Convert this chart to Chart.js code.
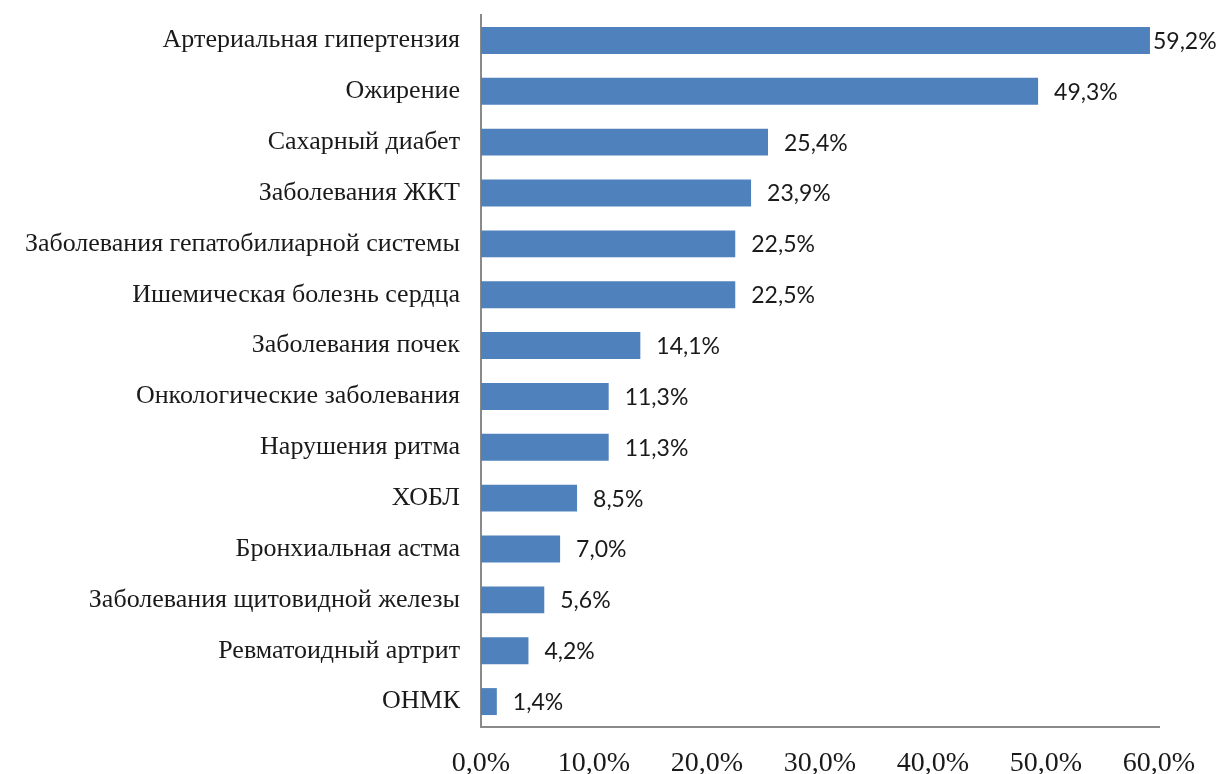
<!DOCTYPE html>
<html lang="ru">
<head>
    <meta charset="utf-8">
    <title>Сопутствующие заболевания</title>
    <script src="https://cdn.jsdelivr.net/npm/chart.js@4.4.0/dist/chart.umd.min.js"></script>
    <style>
        html, body { margin: 0; padding: 0; background: #fff; }
        #wrap { width: 1221px; height: 774px; }
    </style>
</head>
<body>
<div id="wrap"><canvas id="chart" width="1221" height="774"></canvas></div>
<script>
    const diseases = [
        'Артериальная гипертензия',
        'Ожирение',
        'Сахарный диабет',
        'Заболевания ЖКТ',
        'Заболевания гепатобилиарной системы',
        'Ишемическая болезнь сердца',
        'Заболевания почек',
        'Онкологические заболевания',
        'Нарушения ритма',
        'ХОБЛ',
        'Бронхиальная астма',
        'Заболевания щитовидной железы',
        'Ревматоидный артрит',
        'ОНМК'
    ];
    const shares = [59.2, 49.3, 25.4, 23.9, 22.5, 22.5, 14.1, 11.3, 11.3, 8.5, 7.0, 5.6, 4.2, 1.4];
    const axisTicks = [0, 10, 20, 30, 40, 50, 60];

    const fmt = v => v.toFixed(1).replace('.', ',') + '%';

    // value labels to the right of each bar, kept inside the canvas
    const valueLabels = {
        id: 'valueLabels',
        afterDatasetsDraw(chart) {
            const ctx = chart.ctx;
            const meta = chart.getDatasetMeta(0);
            ctx.save();
            ctx.font = '23px Lato';
            ctx.fillStyle = '#1a1a1a';
            ctx.textBaseline = 'middle';
            ctx.textAlign = 'left';
            meta.data.forEach((bar, i) => {
                const text = fmt(shares[i]);
                const w = ctx.measureText(text).width;
                let x = bar.x + 16;
                if (x + w > chart.width - 8) x = bar.x + 3;
                ctx.fillText(text, x, bar.y + 1);
            });
            ctx.restore();
        }
    };

    new Chart(document.getElementById('chart').getContext('2d'), {
        type: 'bar',
        data: {
            labels: diseases,
            datasets: [{
                data: shares,
                backgroundColor: '#4f81bd',
                borderWidth: 0,
                categoryPercentage: 1.0,
                barPercentage: 0.53
            }]
        },
        options: {
            indexAxis: 'y',
            responsive: false,
            animation: false,
            layout: { padding: { top: 15, right: 62, left: 0, bottom: 0 } },
            plugins: {
                legend: { display: false },
                tooltip: { enabled: false }
            },
            scales: {
                x: {
                    min: 0,
                    max: 60,
                    afterBuildTicks(axis) {
                        axis.ticks = axisTicks.map(v => ({ value: v }));
                    },
                    grid: { display: false, drawTicks: false },
                    border: { display: true, color: '#8a8a8a', width: 2 },
                    ticks: {
                        padding: 20,
                        color: '#1a1a1a',
                        font: { family: 'Liberation Serif', size: 28 },
                        maxRotation: 0,
                        callback: v => fmt(v)
                    },
                    afterFit(axis) { axis.height = 47; }
                },
                y: {
                    grid: { display: false, drawTicks: false },
                    border: { display: true, color: '#8a8a8a', width: 2 },
                    ticks: {
                        padding: 21,
                        color: '#1a1a1a',
                        font: { family: 'Liberation Serif', size: 26 }
                    },
                    afterFit(axis) {
                        axis.width = 481;
                        axis.paddingTop = 0;
                        axis.paddingBottom = 0;
                    }
                }
            }
        },
        plugins: [valueLabels]
    });
</script>
</body>
</html>
